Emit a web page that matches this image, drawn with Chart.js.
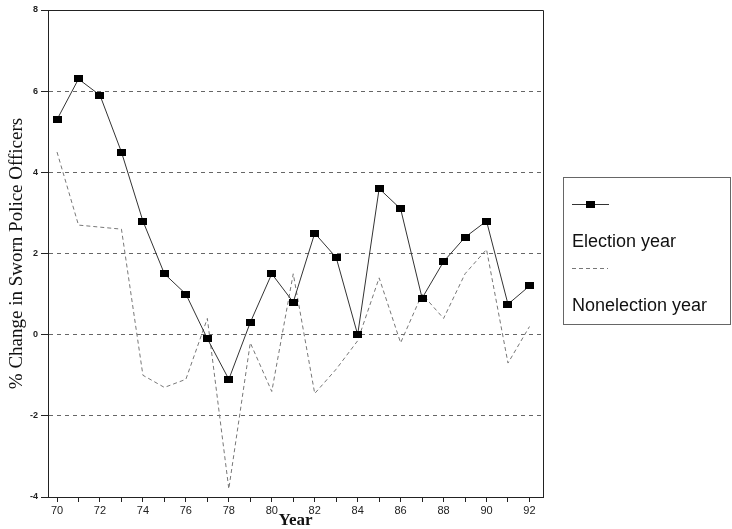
<!DOCTYPE html>
<html>
<head>
<meta charset="utf-8">
<title>Sworn police officers</title>
<script src="https://cdn.jsdelivr.net/npm/chart.js@4.4.1/dist/chart.umd.min.js"></script>
<style>
  html, body { margin: 0; padding: 0; background: #fff; }
  #wrap { width: 732px; height: 529px; }
</style>
</head>
<body>
<div id="wrap"><canvas id="chart" width="732" height="529"></canvas></div>
<script>
// data
const years = [70, 71, 72, 73, 74, 75, 76, 77, 78, 79, 80, 81, 82, 83, 84, 85, 86, 87, 88, 89, 90, 91, 92];
const electionYear = [5.3, 6.3, 5.9, 4.5, 2.8, 1.5, 1.0, -0.1, -1.1, 0.3, 1.5, 0.8, 2.5, 1.9, 0.0, 3.6, 3.1, 0.9, 1.8, 2.4, 2.8, 0.75, 1.2];
const nonelectionYear = [4.5, 2.7, 2.65, 2.6, -1.0, -1.3, -1.1, 0.4, -3.8, -0.2, -1.4, 1.5, -1.45, -0.85, -0.15, 1.4, -0.2, 1.0, 0.4, 1.5, 2.1, -0.7, 0.2];
const yTicks = [-4, -2, 0, 2, 4, 6, 8];
const seriesNames = ['Election year', 'Nonelection year'];

// small black rectangle used as the election-year marker
const marker = document.createElement('canvas');
marker.width = 9;
marker.height = 7;
const mctx = marker.getContext('2d');
mctx.fillStyle = '#000';
mctx.fillRect(0, 0, 9, 7);

const sans = '"Liberation Sans", Arial, sans-serif';
const serif = '"Liberation Serif", "Times New Roman", serif';

// closes the box on top/right and draws the legend panel
const frameAndLegend = {
  id: 'frameAndLegend',
  afterDraw(chart) {
    const { ctx, chartArea: a } = chart;
    ctx.save();
    ctx.strokeStyle = '#222';
    ctx.lineWidth = 1;
    ctx.setLineDash([]);
    ctx.beginPath();
    ctx.moveTo(a.left, a.top + 0.5);
    ctx.lineTo(a.right + 0.5, a.top + 0.5);
    ctx.lineTo(a.right + 0.5, a.bottom);
    ctx.stroke();

    // legend
    ctx.strokeStyle = '#666';
    ctx.strokeRect(563.5, 177.5, 167, 147);

    ctx.strokeStyle = '#333';
    ctx.beginPath();
    ctx.moveTo(572, 204.5);
    ctx.lineTo(609, 204.5);
    ctx.stroke();
    ctx.drawImage(marker, 586, 201);

    ctx.strokeStyle = '#777';
    ctx.setLineDash([4, 3]);
    ctx.beginPath();
    ctx.moveTo(572, 268.5);
    ctx.lineTo(608, 268.5);
    ctx.stroke();
    ctx.setLineDash([]);

    ctx.fillStyle = '#111';
    ctx.font = '18px ' + sans;
    ctx.textBaseline = 'middle';
    ctx.textAlign = 'left';
    ctx.fillText(seriesNames[0], 572, 242);
    ctx.fillText(seriesNames[1], 572, 306);
    ctx.restore();
  }
};

new Chart(document.getElementById('chart'), {
  type: 'line',
  data: {
    datasets: [{
      label: seriesNames[0],
      data: years.map((y, i) => ({ x: y, y: electionYear[i] })),
      borderColor: '#333',
      borderWidth: 1,
      pointStyle: marker,
      pointRadius: 4,
      tension: 0
    }, {
      label: seriesNames[1],
      data: years.map((y, i) => ({ x: y, y: nonelectionYear[i] })),
      borderColor: '#777',
      borderWidth: 1,
      borderDash: [4, 3],
      pointRadius: 0,
      tension: 0
    }]
  },
  options: {
    responsive: false,
    animation: false,
    devicePixelRatio: 1,
    layout: { padding: { top: 10, right: 189, left: 0, bottom: 0 } },
    plugins: { legend: { display: false }, tooltip: { enabled: false } },
    scales: {
      x: {
        type: 'linear',
        min: 69.58,
        max: 92.63,
        afterBuildTicks: scale => { scale.ticks = years.map(v => ({ value: v })); },
        afterFit: scale => { scale.height = 32; },
        grid: { drawOnChartArea: false, drawTicks: true, tickLength: 5, color: '#222', tickBorderDash: [] },
        border: { color: '#222', width: 1 },
        ticks: {
          autoSkip: false,
          maxRotation: 0,
          padding: 2,
          color: '#222',
          font: { family: sans, size: 11 },
          callback: v => (v % 2 === 0 ? String(v) : '')
        },
        title: {
          display: true,
          text: 'Year',
          color: '#111',
          font: { family: serif, size: 17, weight: 'bold', lineHeight: 1 },
          padding: { top: 0, bottom: 0 }
        }
      },
      y: {
        min: -4,
        max: 8,
        afterBuildTicks: scale => { scale.ticks = yTicks.map(v => ({ value: v })); },
        afterFit: scale => { scale.width = 48; },
        grid: { color: '#666', tickLength: 7, tickColor: '#222', tickBorderDash: [] },
        border: { color: '#222', width: 1, dash: [4, 4] },
        ticks: {
          padding: 3,
          color: '#222',
          font: { family: sans, size: 9, weight: 'bold' }
        },
        title: {
          display: true,
          text: '% Change in Sworn Police Officers',
          color: '#111',
          font: { family: serif, size: 19, lineHeight: 1 },
          padding: { top: 8, bottom: 0 }
        }
      }
    }
  },
  plugins: [frameAndLegend]
});
</script>
</body>
</html>
